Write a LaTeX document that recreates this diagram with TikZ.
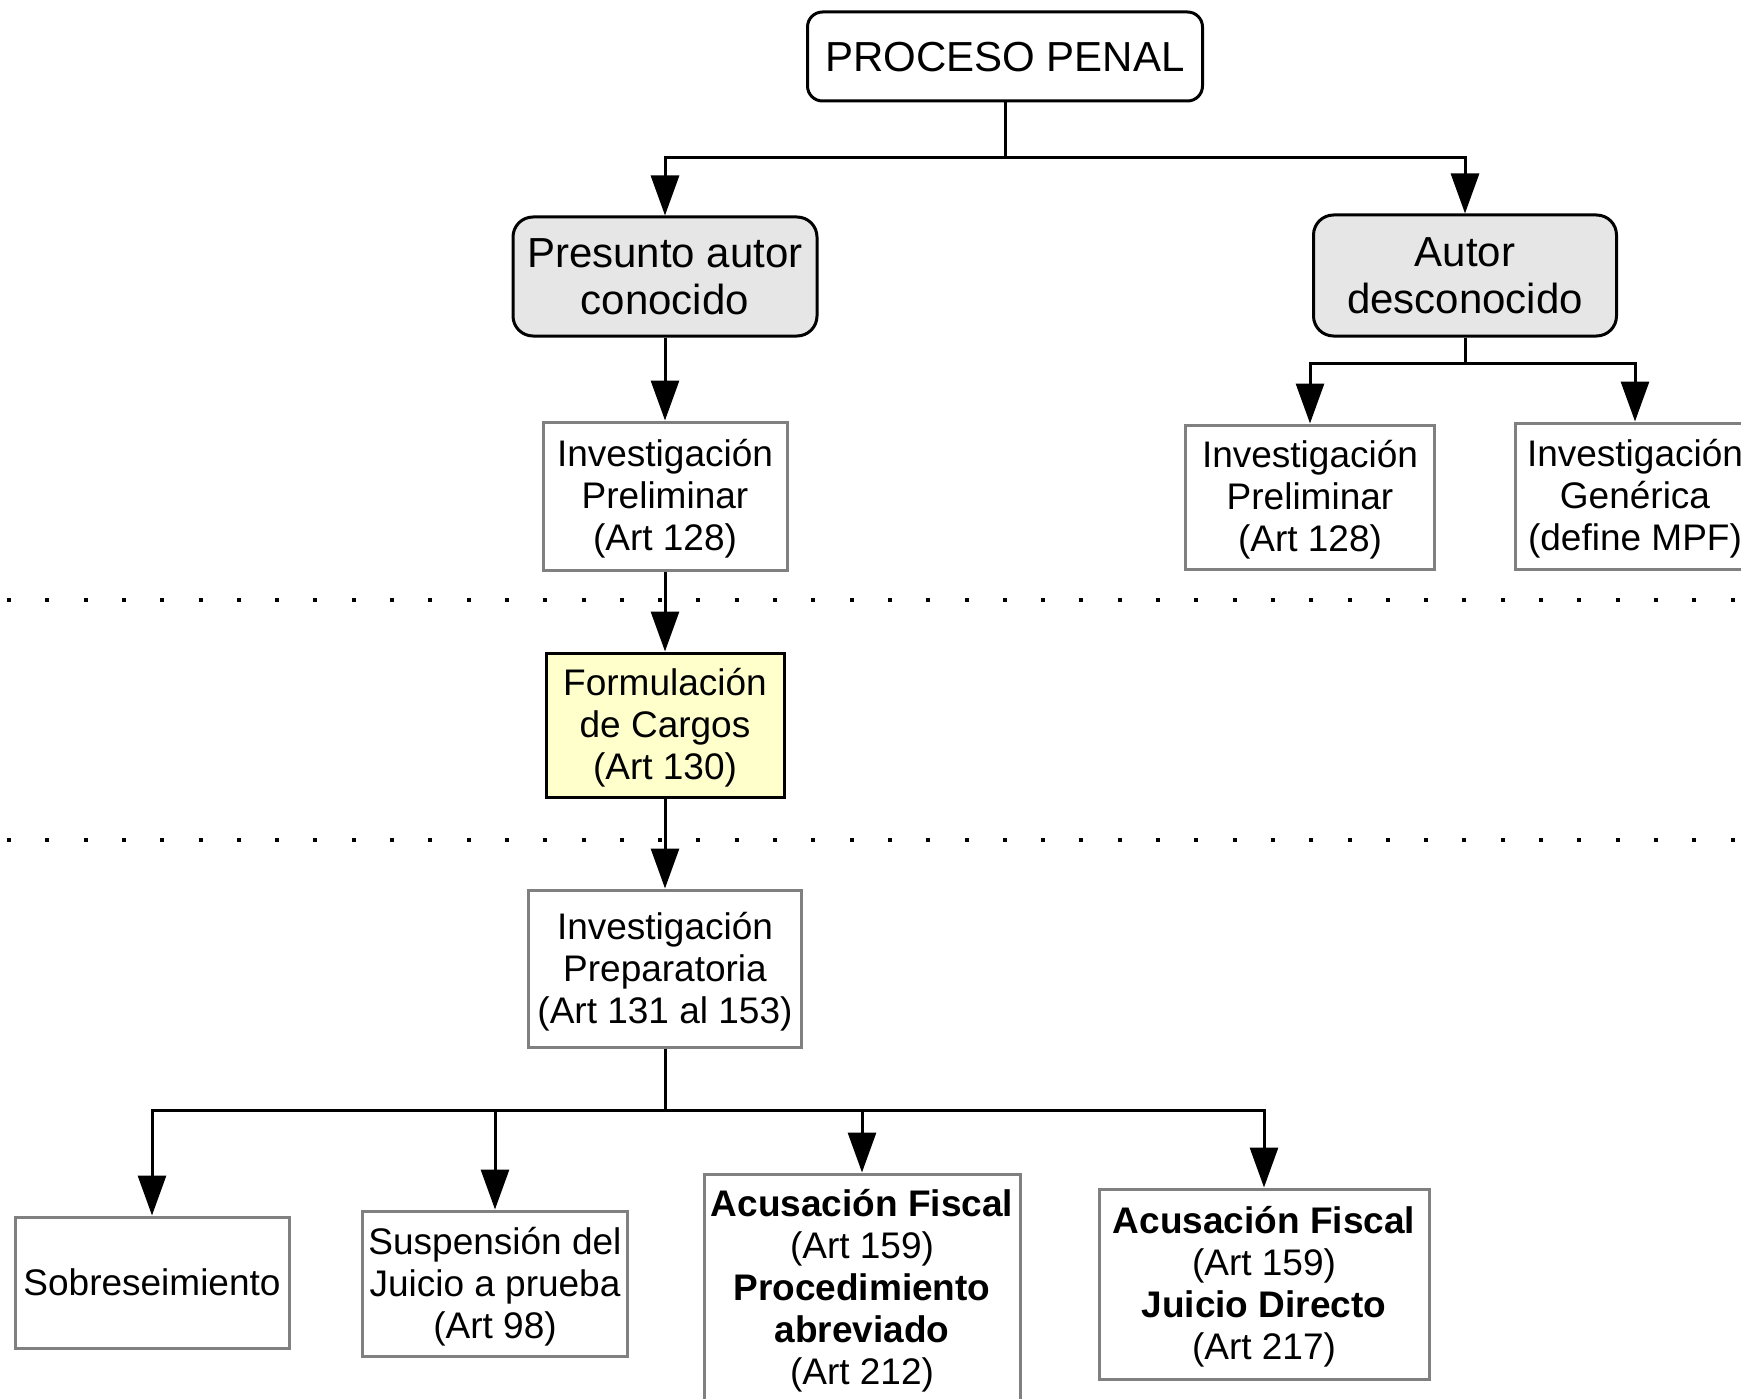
\documentclass[tikz,border=0pt]{standalone}
\usepackage{fontspec}
\setmainfont{Liberation Sans}
\usetikzlibrary{arrows.meta}
\definecolor{boxgray}{HTML}{E6E6E6}
\definecolor{boxyellow}{HTML}{FFFFCC}
\definecolor{edgegray}{HTML}{808080}
\newcommand\mys{\rule[-0.212em]{0pt}{1.117em}}
\tikzset{
  base/.style={inner sep=0pt, align=center, font=\fontsize{37}{42}\selectfont, line width=3pt},
  bigtext/.style={font=\fontsize{42}{47}\selectfont},
  toprnd/.style={base,bigtext,draw=black,fill=white,rounded corners=15pt},
  grayrnd/.style={base,bigtext,draw=black,fill=boxgray,rounded corners=20pt},
  plainbox/.style={base,draw=edgegray,fill=white},
  yellowbox/.style={base,draw=black,fill=boxyellow},
  conn/.style={line width=3pt, black},
  arr/.style={conn,-{Triangle[length=40pt,width=28pt]}},
}
\begin{document}
\begin{tikzpicture}[x=1pt,y=-1pt]
\useasboundingbox (0,0) rectangle (1741,1399);
\clip (0,0) rectangle (1741,1399);
\fill[white] (0,0) rectangle (1741,1399);

% dotted separators
\foreach \i in {0,...,45} {
  \fill[black] ({9+38.3*\i-2},598) rectangle ++(4,4);
  \fill[black] ({9+38.3*\i-2},838) rectangle ++(4,4);
}

% nodes
\node[toprnd, minimum width=395pt, minimum height=89pt] (pp) at (1005,56.5) {\mys PROCESO PENAL};
\node[grayrnd, minimum width=304pt, minimum height=119pt] (pac) at (665,276.5) {\mys Presunto autor\\\mys conocido};
\node[grayrnd, minimum width=303pt, minimum height=121pt] (ad) at (1465,275.5) {\mys Autor\\\mys desconocido};
\node[plainbox, minimum width=244pt, minimum height=148pt] (ip1) at (665,496) {\mys Investigación\\\mys Preliminar\\\mys (Art 128)};
\node[plainbox, minimum width=249pt, minimum height=144pt] (ip2) at (1310,497) {\mys Investigación\\\mys Preliminar\\\mys (Art 128)};
\node[plainbox, minimum width=240pt, minimum height=146pt] (ig) at (1635,496) {\mys Investigación\\\mys Genérica\\\mys (define MPF)};
\node[yellowbox, minimum width=238pt, minimum height=144pt] (fc) at (665,725) {\mys Formulación\\\mys de Cargos\\\mys (Art 130)};
\node[plainbox, minimum width=273pt, minimum height=157pt] (iprep) at (665,968.5) {\mys Investigación\\\mys Preparatoria\\\mys (Art 131 al 153)};
\node[plainbox, minimum width=274pt, minimum height=131pt] (sob) at (152,1282.5) {\mys Sobreseimiento};
\node[plainbox, minimum width=265pt, minimum height=145pt] (sus) at (495,1283.5) {\mys Suspensión del\\\mys Juicio a prueba\\\mys (Art 98)};
\node[plainbox, minimum width=316pt, minimum height=228pt] (af1) at (862,1288) {\mys\textbf{Acusación Fiscal}\\\mys (Art 159)\\\mys\textbf{Procedimiento}\\\mys\textbf{abreviado}\\\mys (Art 212)};
\node[plainbox, minimum width=330pt, minimum height=190pt] (af2) at (1264,1284) {\mys\textbf{Acusación Fiscal}\\\mys (Art 159)\\\mys\textbf{Juicio Directo}\\\mys (Art 217)};

% connectors
\coordinate (j1) at (1005,158);
\draw[conn] (pp.south) -- (j1);
\draw[arr] (j1) -| (pac.north);
\draw[arr] (j1) -| (ad.north);

\draw[arr] (pac.south) -- (ip1.north);

\coordinate (j2) at (1465,363);
\draw[conn] (ad.south) -- (j2);
\draw[arr] (j2) -| (ip2.north);
\draw[arr] (j2) -| (ig.north);

\draw[arr] (ip1.south) -- (fc.north);
\draw[arr] (fc.south) -- (iprep.north);

\coordinate (j3) at (665,1110);
\draw[conn] (iprep.south) -- (j3);
\draw[arr] (j3) -| (sob.north);
\draw[arr] (j3) -| (sus.north);
\draw[arr] (j3) -| (af1.north);
\draw[arr] (j3) -| (af2.north);
\end{tikzpicture}
\end{document}
